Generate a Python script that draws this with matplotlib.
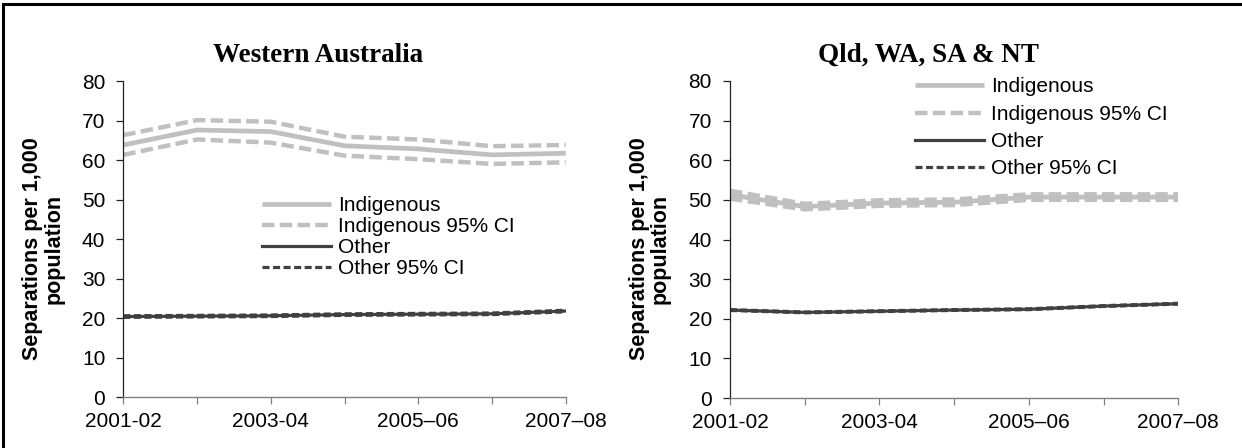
import matplotlib
matplotlib.use('Agg')
import matplotlib.pyplot as plt
from matplotlib.patches import Rectangle

# Financial years on the x axis (labels shown on every second year)
years = ['2001-02', '2002-03', '2003-04', '2004-05', '2005–06', '2006-07', '2007–08']
tick_labels = ['2001-02', '', '2003-04', '', '2005–06', '', '2007–08']

# Western Australia
wa_indig = [63.9, 67.7, 67.3, 63.7, 62.9, 61.4, 61.8]
wa_indig_hi = [66.4, 70.2, 69.8, 66.0, 65.3, 63.6, 63.9]
wa_indig_lo = [61.4, 65.3, 64.5, 61.2, 60.3, 59.1, 59.5]
wa_other = [20.4, 20.5, 20.6, 20.9, 21.0, 21.1, 21.8]
wa_other_hi = [20.6, 20.7, 20.8, 21.1, 21.2, 21.3, 22.0]
wa_other_lo = [20.2, 20.3, 20.4, 20.7, 20.8, 20.9, 21.6]

# Qld, WA, SA & NT combined
all_indig = [51.3, 48.3, 49.2, 49.4, 50.7, 50.7, 50.7]
all_indig_hi = [52.3, 49.0, 49.9, 50.1, 51.4, 51.4, 51.4]
all_indig_lo = [50.3, 47.6, 48.5, 48.7, 50.0, 50.0, 50.0]
all_other = [22.2, 21.6, 21.9, 22.2, 22.4, 23.2, 23.8]
all_other_hi = [22.3, 21.7, 22.0, 22.3, 22.5, 23.3, 23.9]
all_other_lo = [22.1, 21.5, 21.8, 22.1, 22.3, 23.1, 23.7]

plt.rcParams['font.family'] = ['Liberation Sans', 'DejaVu Sans']

LIGHT = '#c0c0c0'
DARK = '#404040'
FS = 15

fig = plt.figure(figsize=(12.42, 4.48), dpi=100)
ax1 = fig.add_axes([0.0993, 0.1138, 0.3562, 0.7043])
ax2 = fig.add_axes([0.5878, 0.1116, 0.3609, 0.7076])


def draw_panel(ax, indig, indig_hi, indig_lo, other, other_hi, other_lo):
    x = range(len(years))
    ax.plot(x, indig, color=LIGHT, lw=3.4, solid_capstyle='butt', label='Indigenous')
    ax.plot(x, indig_hi, color=LIGHT, lw=3.2, dashes=(2.8, 1.2),
            label='Indigenous 95% CI')
    ax.plot(x, indig_lo, color=LIGHT, lw=3.2, dashes=(2.8, 1.2))
    ax.plot(x, other, color=DARK, lw=2.3, label='Other')
    ax.plot(x, other_hi, color=DARK, lw=2.3, dashes=(2.2, 1.1), label='Other 95% CI')
    ax.plot(x, other_lo, color=DARK, lw=2.3, dashes=(2.2, 1.1))

    ax.set_xlim(0, len(years) - 1)
    ax.set_ylim(0, 80)
    ax.set_yticks(range(0, 81, 10))
    ax.set_xticks(list(x))
    ax.set_xticklabels(tick_labels)
    ax.tick_params(axis='both', labelsize=FS, length=5, width=0.9,
                   direction='out', colors='#222222')
    ax.tick_params(axis='x', pad=6, colors='#808080', labelcolor='black')
    ax.tick_params(axis='y', pad=8, labelcolor='black')
    for side in ['top', 'right']:
        ax.spines[side].set_visible(False)
    ax.spines['left'].set_linewidth(0.9)
    ax.spines['left'].set_color('#222222')
    ax.spines['bottom'].set_linewidth(1.0)
    ax.spines['bottom'].set_color('#808080')
    ax.set_ylabel('Separations per 1,000\npopulation', fontsize=FS + 0.5,
                  fontweight='bold', linespacing=1.0)
    ax.yaxis.label.set_va('center')
    ax.yaxis.set_label_coords(-80 / (ax.get_position().width * 1242), 0.47)


draw_panel(ax1, wa_indig, wa_indig_hi, wa_indig_lo, wa_other, wa_other_hi, wa_other_lo)
draw_panel(ax2, all_indig, all_indig_hi, all_indig_lo, all_other, all_other_hi,
           all_other_lo)

leg_kw = dict(frameon=False, fontsize=FS, handlelength=3.3, handletextpad=0.34,
              borderaxespad=0, borderpad=0, loc='upper left')
ax1.legend(bbox_to_anchor=(262 / 1242, 1 - 196 / 448), bbox_transform=fig.transFigure,
           labelspacing=0.1, **leg_kw)
ax2.legend(bbox_to_anchor=(915 / 1242, 1 - 77.5 / 448), bbox_transform=fig.transFigure,
           labelspacing=0.4, **leg_kw)

title_font = dict(family=['Liberation Serif', 'DejaVu Serif'], fontsize=19.5,
                  fontweight='bold', ha='center', va='center')
fig.text(318 / 1242, 1 - 55 / 448, 'Western Australia', **title_font)
fig.text(929 / 1242, 1 - 55 / 448, 'Qld, WA, SA & NT', **title_font)

# Page frame along the top and left edges
fig.add_artist(Rectangle((3 / 1242, -0.5), 1.5, 1.5 - 4.3 / 448,
                         transform=fig.transFigure, fill=False, lw=2.2,
                         edgecolor='black'))

fig.savefig('out.png', dpi=100)
